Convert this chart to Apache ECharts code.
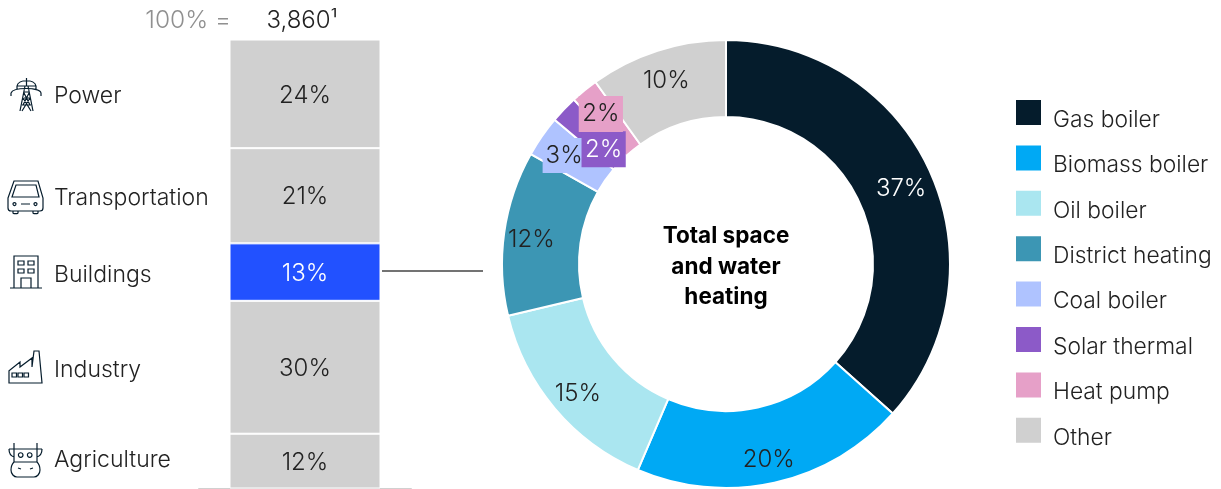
<!DOCTYPE html>
<html><head><meta charset="utf-8">
<style>html,body{margin:0;padding:0;background:#fff}#c{width:1221px;height:489px}</style>
<script src="https://cdn.jsdelivr.net/npm/echarts@6/dist/echarts.min.js"></script></head>
<body><div id="c"></div>
<script>
const sectors = ['Power','Transportation','Buildings','Industry','Agriculture'];
const sectorShares = [24.2,21.2,12.8,29.6,12.2];
const sectorColors = ['#d0d0d0','#d0d0d0','#2251ff','#d0d0d0','#d0d0d0'];
const heatTypes = ['Gas boiler','Biomass boiler','Oil boiler','District heating','Coal boiler','Solar thermal','Heat pump','Other'];
const heatShares = [37,20,15,12,3,2,2,10];
const heatColors = ['#051c2c','#00a9f4','#aae6f0','#3c96b4','#afc3ff','#8c5ac8','#e6a0c8','#d0d0d0'];
const FONT = 'Inter';
const W = 300;
const ink = '#222222';
const chart = echarts.init(document.getElementById('c'),null,{renderer:'canvas'});
const labelTweak = {
 'Gas boiler':{offset:[3,2]}, 'Biomass boiler':{offset:[2,12]}, 'Oil boiler':{offset:[-4,8]},
 'District heating':{offset:[-8,2]}, 'Other':{offset:[-2,-4]},
 'Coal boiler':{offset:[-7,-1],backgroundColor:'#afc3ff',padding:[6,3,5,3]},
 'Solar thermal':{offset:[14,15.5],backgroundColor:'#8c5ac8',color:'#fff',padding:[5,3.5,7,3.5]},
 'Heat pump':{offset:[-6,-4],backgroundColor:'#e6a0c8',padding:[9,3.5,3,3.5]}
};
const icons = [
 'M20 111L25 86H28L33 111M23 98L31 111M30 98L22 111M23.5 92L30 105M29.5 92L23 105M22 105H31M24 92H29M24 98H30M26.5 78V86M17 86C18 79 35 79 36 86H17M11 93C13 87 40 87 41 93M11 93V96M41 93V96M17 86V89M36 86V89',
 'M8 198L14 181H38L43 198V208C43 210 42 211 40 211H11C9 211 8 210 8 208ZM12 197L16 185H36L39 197ZM21 204H30M16 204A1.5 1.5 0 1 0 16 204.1M37 204A1.5 1.5 0 1 0 37 204.1M13 211V213C13 214 18 214 18 213V211M33 211V213C33 214 38 214 38 213V211',
 'M10 288H42M14 288V256H38V288M21 288V278H31V288M18 261H24V265H18ZM28 261H34V265H28ZM18 269H24V273H18ZM28 269H34V273H28Z',
 'M9 383V370.7L20 362V367L32 358V367L34 351H39L42 383ZM12 373H16.5V377H12ZM18 373H22.5V377H18ZM24 373H28.5V377H24Z',
 'M14 443V462M37 443V462M9 449H42M9 449C9 454 11 456 14 457M42 449C42 454 40 456 37 457M14 462H37C39 464 40 467 40 470C40 474 37 477 34 477H17C14 477 11 474 11 470C11 467 12 464 14 462ZM18 468L21 469M33 468L30 469M23 455A2.3 2.3 0 1 0 23 455.1M32 455A2.3 2.3 0 1 0 32 455.1'
];
const iconGraphics = icons.map((d,i)=>{
  const t='sectorIcon'+i;
  echarts.graphic.registerShape(t,echarts.graphic.extendPath(d,{}));
  return {type:t,style:{fill:null,stroke:'#051c2c',lineWidth:1.2}};
});
const nameY = [96,198,275,370,460];
const option = {
 animation:false,
 textStyle:{fontFamily:FONT,fontWeight:W},
 grid:{left:199,width:212,top:39.5,height:449,containLabel:false},
 xAxis:{type:'category',data:['Total'],position:'bottom',axisTick:{show:false},axisLabel:{show:false},axisLine:{show:true,onZero:false,lineStyle:{color:'#d0d0d0',width:2}}},
 yAxis:{type:'value',min:0,max:100,inverse:true,show:false},
 legend:{show:true,selectedMode:false,orient:'vertical',padding:0,left:1016,top:100,itemWidth:25,itemHeight:40,itemGap:5.4,icon:'path://M0 0H25V25H0ZM0 40L0.01 40',data:heatTypes,
   itemStyle:{borderWidth:0},
   textStyle:{fontFamily:FONT,fontWeight:W,fontSize:22.8,color:ink,padding:[0,0,0,7]}},
 graphic:[
  {type:'text',x:231,y:21,style:{text:'100% =',fontFamily:FONT,fontWeight:W,fontSize:24.5,fill:'#909090',align:'right',verticalAlign:'middle'}},
  {type:'text',x:302,y:21,style:{text:'3,860¹',fontFamily:FONT,fontWeight:W,fontSize:24,fill:ink,align:'center',verticalAlign:'middle'}},
  {type:'line',shape:{x1:382,y1:271,x2:483,y2:271},style:{stroke:'#444',lineWidth:1.5}},
  {type:'text',x:726,y:267,style:{text:'Total space\nand water\nheating',fontFamily:FONT,fontWeight:700,fontSize:22.5,lineHeight:30.5,fill:'#000',align:'center',verticalAlign:'middle'}},
  ...sectors.map((s,i)=>({type:'text',x:54,y:nameY[i],style:{text:s,fontFamily:FONT,fontWeight:W,fontSize:23,fill:ink,align:'left',verticalAlign:'middle'}})),
  ...iconGraphics
 ],
 series:[
  ...sectors.map((s,i)=>({type:'bar',name:s,stack:'all',barWidth:151,data:[sectorShares[i]],
    itemStyle:{color:sectorColors[i],borderColor:'#fff',borderWidth:1},
    label:{show:true,position:'inside',offset:[0,1.5],formatter:p=>Math.round(p.value)+'%',fontFamily:FONT,fontWeight:W,fontSize:24,color:i===2?'#fff':ink}})),
  {type:'pie',radius:[147,224],center:[726,264],startAngle:90,clockwise:true,avoidLabelOverlap:false,
   labelLayout:{hideOverlap:false},
   data:heatTypes.map((n,i)=>({name:n,value:heatShares[i],itemStyle:{color:heatColors[i]},
     label:Object.assign({color:i===0?'#fff':ink},labelTweak[n])})),
   itemStyle:{borderColor:'#fff',borderWidth:2},
   labelLine:{show:false},
   label:{show:true,position:'inside',formatter:'{c}%',fontFamily:FONT,fontWeight:W,fontSize:24}}
 ]
};
chart.setOption(option);
</script></body></html>
